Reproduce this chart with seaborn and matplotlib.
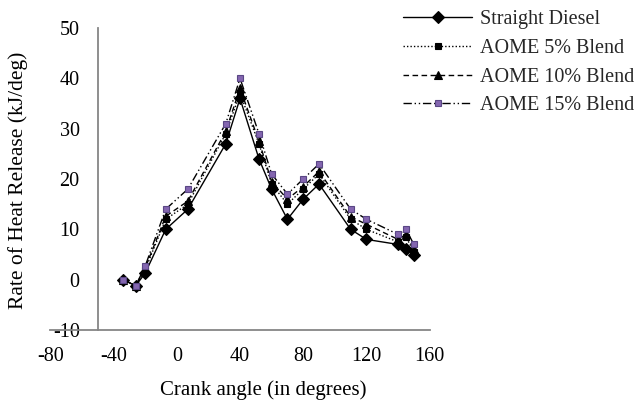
import matplotlib
matplotlib.use("Agg")
import matplotlib.pyplot as plt
import seaborn as sns
import pandas as pd

crank_angle = [-34, -26, -20, -7, 7, 31, 40, 52, 60, 70, 80, 90, 110, 120, 140, 145, 150]
straight_diesel = [0, -1.2, 1.3, 10, 14, 27, 36, 24, 18, 12, 16, 19, 10, 8, 7, 6, 5]
aome_5 = [0, -1.2, 2.0, 12, 15, 29, 37, 27, 19, 15, 18, 21, 12, 10, 7.5, 8.5, 5.5]
aome_10 = [0, -1.2, 2.3, 12.6, 15.6, 29.5, 38, 27.5, 19.5, 16, 18.5, 21.5, 12.5, 11, 8, 9, 6]
aome_15 = [0, -1.2, 2.7, 14, 18, 31, 40, 29, 21, 17, 20, 23, 14, 12, 9, 10, 7]

series_names = ["Straight Diesel", "AOME 5% Blend", "AOME 10% Blend", "AOME 15% Blend"]
series_values = [straight_diesel, aome_5, aome_10, aome_15]

x_ticks = [-80, -40, 0, 40, 80, 120, 160]
y_ticks = [-10, 0, 10, 20, 30, 40, 50]

sns.set_theme(style="white")
plt.rcParams["font.family"] = ["Liberation Serif", "DejaVu Serif"]

fig = plt.figure(figsize=(6.42, 4.03), dpi=100)
ax = fig.add_axes([0.0784, 0.1811, 0.5909, 0.7494])

styles = [
    dict(linestyle="-", marker="D", markersize=6.5, markerfacecolor="black", markeredgecolor="black"),
    dict(linestyle=(0, (1, 1.5)), marker="s", markersize=5, markerfacecolor="black", markeredgecolor="black"),
    dict(linestyle=(0, (4, 2.5)), marker="^", markersize=6, markerfacecolor="black", markeredgecolor="black"),
    dict(linestyle=(0, (6, 2, 1, 2, 1, 2)), marker="s", markersize=5, markerfacecolor="#8466B0",
         markeredgecolor="#5A4785"),
]

for name, vals, st in zip(series_names, series_values, styles):
    df = pd.DataFrame({"Crank angle": crank_angle, "RHR": vals})
    sns.lineplot(data=df, x="Crank angle", y="RHR", ax=ax, color="black", linewidth=1.0,
                 label=name, sort=False, errorbar=None, markeredgewidth=0.8, **st)

ax.set_xlim(-80, 160)
ax.set_ylim(-10, 50)
ax.set_xticks(x_ticks)
ax.set_yticks(y_ticks)
ax.set_xticklabels([str(t) for t in x_ticks])
ax.set_yticklabels([str(t) for t in y_ticks])

for s in ["top", "right"]:
    ax.spines[s].set_visible(False)
ax.spines["left"].set_position(("data", -50))
for s in ["left", "bottom"]:
    ax.spines[s].set_color("#868686")
    ax.spines[s].set_linewidth(1.3)

ax.tick_params(axis="both", which="major", direction="out", length=5, width=1.3,
               color="#868686", labelsize=14.5, labelcolor="black")
ax.tick_params(axis="y", pad=8)
ax.tick_params(axis="x", pad=7)
ax.grid(False)

ax.set_xlabel("Crank angle (in degrees)", fontsize=15, color="black")
ax.xaxis.set_label_coords(0.56, -0.165)
ax.set_ylabel("Rate of Heat Release (kJ/deg)", fontsize=15.5, color="black")
ax.yaxis.set_label_coords(-0.058, 0.495)

ax.legend(loc="upper left", bbox_to_anchor=(0.622, 0.985), bbox_transform=fig.transFigure,
          frameon=False, fontsize=14.5, handlelength=3.4, handletextpad=0.4,
          labelspacing=0.48, numpoints=1, borderaxespad=0.0, borderpad=0.2)

fig.savefig("out.png", dpi=100)
